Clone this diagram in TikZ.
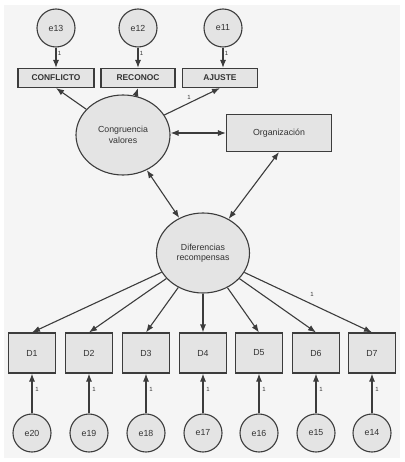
\documentclass[tikz,border=0pt]{standalone}
\usepackage{fontspec}
\setmainfont{Liberation Sans}
\usetikzlibrary{arrows.meta,shapes.geometric}
\definecolor{bgc}{HTML}{F5F5F5}
\definecolor{fillc}{HTML}{E4E4E4}
\definecolor{linec}{HTML}{3C3C3C}
\definecolor{txtc}{HTML}{333333}
\begin{document}
\begin{tikzpicture}[x=1pt,y=-1pt,
 every node/.style={text=txtc, font=\fontsize{8.8}{10}\selectfont, inner sep=0pt},
 err/.style={circle, draw=linec, fill=fillc, line width=1.1pt, minimum size=38pt},
 obs/.style={rectangle, draw=linec, fill=fillc, line width=1.1pt, minimum width=47pt, minimum height=40pt},
 topbox/.style={rectangle, draw=linec, fill=fillc, line width=1.1pt, minimum height=19pt, font=\bfseries\fontsize{8.4}{10}\selectfont},
 lat/.style={ellipse, draw=linec, fill=fillc, line width=1.1pt, minimum width=94pt, minimum height=80pt, align=center, font=\fontsize{8.8}{10.5}\selectfont},
 arr/.style={arrows={-Latex[length=8pt,width=6pt]}, draw=linec, line width=1.1pt},
 darr/.style={arrows={Latex[length=8pt,width=6pt]-Latex[length=8pt,width=6pt]}, draw=linec, line width=1.1pt},
 one/.style={font=\fontsize{6}{7}\selectfont}
]
\useasboundingbox (0,0) rectangle (404,462);
\fill[white] (0,0) rectangle (404,462);
\fill[bgc] (4,5) rectangle (400,458);

% top errors and indicators
\node[err] (e13) at (56,28) {e13};
\node[err] (e12) at (138,28) {e12};
\node[err] (e11) at (223,28) {e11};
\node[topbox, minimum width=76pt] (conf) at (56,78) {CONFLICTO};
\node[topbox, minimum width=74pt] (reco) at (138,78) {RECONOC};
\node[topbox, minimum width=75pt] (ajus) at (220,78) {AJUSTE};

% latent variables
\node[lat] (cong) at (123,135) {Congruencia\\valores};
\node[rectangle, draw=linec, fill=fillc, line width=1.1pt, minimum width=105pt, minimum height=37pt] (org) at (279,133) {Organización};
\node[lat, minimum width=93pt] (dif) at (203,253) {Diferencias\\recompensas};

% bottom indicators and errors
\foreach \i/\x/\e in {1/32/20, 2/89/19, 3/146/18, 4/203/17, 5/259/16, 6/316/15, 7/372/14} {
  \node[obs] (D\i) at (\x,353) {D\i};
  \node[err] (e\e) at (\x,433) {e\e};
  \draw[arr] (e\e) -- (D\i);
  \node[one] (l\i) at (\x+5,389) {1};
  \draw[arr] (dif) -- (D\i.north);
}

% top connectors
\draw[arr] (e13) -- (conf);
\draw[arr] (e12) -- (reco);
\draw[arr] (e11) -- (e11 |- ajus.north);
\node[one] (t13) at (59.5,53) {1};
\node[one] (t12) at (141.5,53) {1};
\node[one] (t11) at (226.5,53) {1};
\draw[arr] (cong) -- (conf.south);
\draw[arr] (cong) -- (reco.south);
\draw[arr] (cong) -- (ajus.south);
\node[one] (la) at (189,97) {1};
\node[one] (ld) at (312,294) {1};

% covariances
\draw[darr] (cong.east |- org.west) -- (org.west);
\draw[darr] (cong) -- (dif);
\draw[darr] (org.south) -- (dif);
\end{tikzpicture}
\end{document}
